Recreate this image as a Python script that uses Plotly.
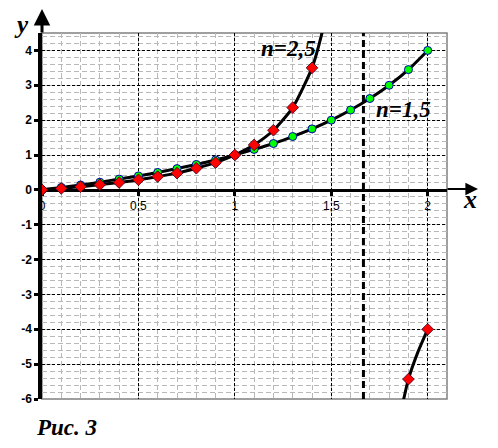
import plotly.graph_objects as go

# ---- data ----
x_pts = [0, 0.1, 0.2, 0.3, 0.4, 0.5, 0.6, 0.7, 0.8, 0.9, 1.0,
         1.1, 1.2, 1.3, 1.4, 1.5, 1.6, 1.7, 1.8, 1.9, 2.0]
y_n15 = [0, 0.07, 0.14, 0.22, 0.31, 0.40, 0.50, 0.61, 0.73, 0.86, 1.0,
         1.16, 1.33, 1.53, 1.75, 2.0, 2.29, 2.62, 3.0, 3.45, 4.0]

x_n25_up = [0, 0.1, 0.2, 0.3, 0.4, 0.5, 0.6, 0.7, 0.8, 0.9, 1.0,
            1.1, 1.2, 1.3, 1.4]
y_n25_up = [0, 0.04, 0.09, 0.15, 0.21, 0.29, 0.38, 0.48, 0.62, 0.78, 1.0,
            1.29, 1.71, 2.36, 3.5]
# extra (unmarked) points where the curve leaves the frame
x_n25_up_end = [1.45, 1.47]
y_n25_up_end = [4.46, 5.0]

x_n25_low = [1.9, 2.0]
y_n25_low = [-5.43, -4.0]
x_n25_low_extra = [1.86, 1.95]
y_n25_low_extra = [-6.4, -4.64]

asymptote_x = 5 / 3

x_ticks = [0, 0.5, 1, 1.5, 2]
x_ticktext = ['0', '0,5', '1', '1,5', '2']
y_ticks = [-6, -5, -4, -3, -2, -1, 0, 1, 2, 3, 4]
y_ticktext = ['-6', '-5', '-4', '-3', '-2', '-1', '0', '1', '2', '3', '4']

X_RANGE = [0, 2.1]
Y_RANGE = [-6, 4.5]

OFF = 8  # page offset of the figure (body margin)
W, H = 498 - OFF, 448 - OFF
ML, MR, MT, MB = 42 - OFF, 51, 33 - OFF, 49
PW, PH = W - ML - MR, H - MT - MB


def px(xp):
    return (xp - OFF - ML) / PW


def py(yp):
    return (OFF + H - MB - yp) / PH


fig = go.Figure()

line_style = dict(color='black', width=3, shape='spline', smoothing=0.6)

# asymptote (as a trace so it sits above grid, below curves)
fig.add_trace(go.Scatter(x=[asymptote_x, asymptote_x], y=Y_RANGE, mode='lines',
                         line=dict(color='black', width=3, dash='7px,4px'),
                         hoverinfo='skip', showlegend=False))

# curves
fig.add_trace(go.Scatter(x=x_pts, y=y_n15, mode='lines', line=line_style,
                         hoverinfo='skip', showlegend=False))
fig.add_trace(go.Scatter(x=x_n25_up + x_n25_up_end, y=y_n25_up + y_n25_up_end,
                         mode='lines', line=line_style, hoverinfo='skip',
                         showlegend=False))
low_x = sorted(x_n25_low + x_n25_low_extra)
low_y = sorted(y_n25_low + y_n25_low_extra)
fig.add_trace(go.Scatter(x=low_x, y=low_y, mode='lines', line=line_style,
                         hoverinfo='skip', showlegend=False))

# markers
fig.add_trace(go.Scatter(x=x_pts, y=y_n15, mode='markers',
                         marker=dict(symbol='circle', size=8, color='#00ff00',
                                     line=dict(color='#0000b0', width=1)),
                         showlegend=False))
fig.add_trace(go.Scatter(x=x_n25_up + x_n25_low, y=y_n25_up + y_n25_low,
                         mode='markers',
                         marker=dict(symbol='diamond', size=9, color='#ff0000',
                                     line=dict(color='#300020', width=0.8)),
                         showlegend=False))

# frame
fig.add_shape(type='rect', xref='paper', yref='paper', x0=0, x1=1, y0=0, y1=1,
              line=dict(color='#808080', width=1.5), layer='below')

tick_font = dict(family='Liberation Sans, Arial', size=12, color='black')

fig.update_xaxes(range=X_RANGE, anchor='free',
                 position=(0 - Y_RANGE[0]) / (Y_RANGE[1] - Y_RANGE[0]),
                 showline=True, linecolor='black', linewidth=3,
                 ticks='outside', ticklen=4, tickwidth=3, tickcolor='black',
                 tickvals=x_ticks, ticktext=x_ticktext, tickfont=tick_font,
                 showgrid=True, gridcolor='black', gridwidth=1, griddash='3px,2px',
                 minor=dict(dtick=0.1, tick0=0, showgrid=True, gridcolor='#b8b8b8',
                            gridwidth=1, griddash='5px,3px', ticks=''),
                 zeroline=False, layer='below traces', fixedrange=True,
                 automargin=False)
fig.update_yaxes(range=Y_RANGE,
                 showline=True, linecolor='black', linewidth=3.5,
                 ticks='outside', ticklen=4, tickwidth=3, tickcolor='black',
                 tickvals=y_ticks, ticktext=y_ticktext,
                 tickfont=dict(family='Liberation Sans, Arial', size=12, color='black', weight='bold'),
                 showgrid=True, gridcolor='black', gridwidth=1, griddash='3px,2px',
                 minor=dict(dtick=0.2, tick0=0, showgrid=True, gridcolor='#b8b8b8',
                            gridwidth=1, griddash='5px,3px', ticks=''),
                 zeroline=False, layer='below traces', fixedrange=True,
                 automargin=False)

serif = 'Liberation Serif, Times New Roman, serif'
ann = []
# axis arrows
ann.append(dict(xref='paper', yref='paper', x=0, y=py(6), ax=0, ay=28,
                text='', showarrow=True, arrowhead=2, arrowsize=1.1,
                arrowwidth=3, arrowcolor='black'))
ann.append(dict(xref='paper', yref='paper', x=px(478), y=py(189), ax=-32, ay=0,
                text='', showarrow=True, arrowhead=2, arrowsize=1.4,
                arrowwidth=1.8, arrowcolor='black'))
# axis names
ann.append(dict(xref='paper', yref='paper', x=px(21), y=py(OFF + 1), text='<b><i>y</i></b>',
                showarrow=False, xanchor='center', yanchor='top',
                font=dict(family=serif, size=25, color='black')))
ann.append(dict(xref='paper', yref='paper', x=px(470), y=py(200), text='<b><i>x</i></b>',
                showarrow=False, xanchor='center', yanchor='middle',
                font=dict(family=serif, size=26, color='black')))
# curve labels
ann.append(dict(xref='paper', yref='paper', x=px(288), y=py(48), text='<b><i>n=2,5</i></b>',
                showarrow=False, xanchor='center', yanchor='middle',
                font=dict(family=serif, size=23, color='black')))
ann.append(dict(xref='paper', yref='paper', x=px(403), y=py(109), text='<b><i>n=1,5</i></b>',
                showarrow=False, xanchor='center', yanchor='middle',
                font=dict(family=serif, size=23, color='black')))
# caption
ann.append(dict(xref='paper', yref='paper', x=px(66), y=py(427), text='<b><i>Рис. 3</i></b>',
                showarrow=False, xanchor='center', yanchor='middle',
                font=dict(family=serif, size=23, color='black')))

fig.update_layout(width=W, height=H, margin=dict(l=ML, r=MR, t=MT, b=MB),
                  paper_bgcolor='white', plot_bgcolor='white',
                  showlegend=False, annotations=ann)

fig.write_html('out.html')
